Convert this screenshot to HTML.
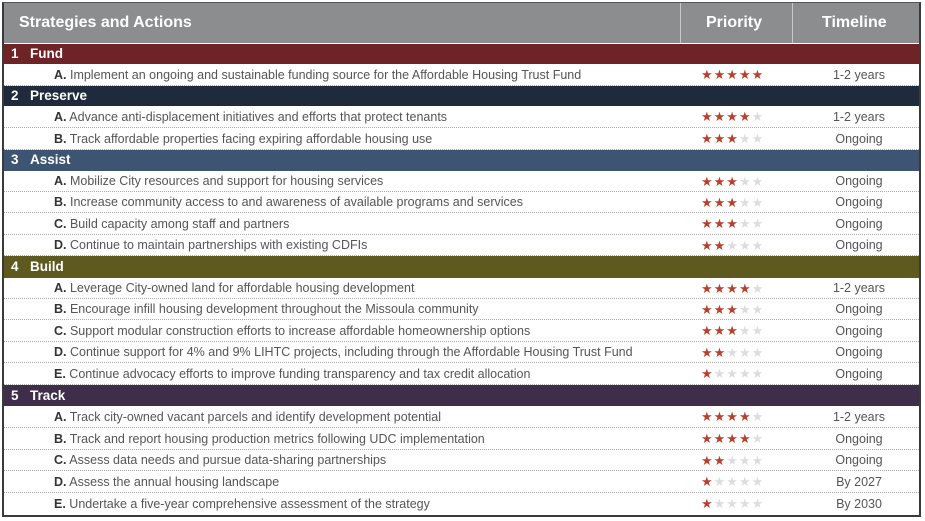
<!DOCTYPE html>
<html><head><meta charset="utf-8"><style>
body{margin:0;width:925px;height:521px;background:#fff;position:relative;overflow:hidden;font-family:"Liberation Sans",sans-serif}
#box{position:absolute;left:2px;top:2px;width:915px;height:512px;border:2px solid #3a3a3a;border-top:1px solid #555;background:#fff}
.h{position:absolute;left:0;top:0;width:915px;height:40px;background:#8b8d8f;color:#fff;font-weight:bold;font-size:16px}
.h span{position:absolute;top:11px}
.vd{position:absolute;top:0;height:40px;width:1px;background:#c8c8c8}
.c{position:absolute;left:0;width:915px;color:#fff;font-weight:bold;font-size:13.5px;line-height:20px}
.c i{font-style:normal;position:absolute;left:7px}
.c em{font-style:normal;position:absolute;left:26px}
.r{position:absolute;left:0;width:915px;font-size:12.5px;color:#555;border-bottom:1px dotted #aaa;box-sizing:border-box}
.r .t{position:absolute;left:50px}
.r .t b{color:#333;font-weight:bold}
.r .s{position:absolute;left:697px;font-size:13px;letter-spacing:1px;color:#b8402e}
.r .s u{text-decoration:none;color:#ddd}
.r .tl{position:absolute;left:795px;width:120px;text-align:center}
</style></head><body>
<div id="box">
<div class="h"><span style="left:15px">Strategies and Actions</span><span style="left:702px">Priority</span><span style="left:818px">Timeline</span><div class="vd" style="left:676px"></div><div class="vd" style="left:788px"></div></div>

<div class="c" style="top:41px;height:20px;background:#6e2326"><i>1</i><em>Fund</em></div>
<div class="r" style="top:61px;height:22px;line-height:22px"><span class="t"><b>A.</b> Implement an ongoing and sustainable funding source for the Affordable Housing Trust Fund</span><span class="s">★★★★★</span><span class="tl">1-2 years</span></div>

<div class="c" style="top:83px;height:20px;background:#1f2b3c"><i>2</i><em>Preserve</em></div>
<div class="r" style="top:103px;height:22px;line-height:22px"><span class="t"><b>A.</b> Advance anti-displacement initiatives and efforts that protect tenants</span><span class="s">★★★★<u>★</u></span><span class="tl">1-2 years</span></div>
<div class="r" style="top:125px;height:22px;line-height:22px"><span class="t"><b>B.</b> Track affordable properties facing expiring affordable housing use</span><span class="s">★★★<u>★★</u></span><span class="tl">Ongoing</span></div>

<div class="c" style="top:147px;height:21px;background:#3d5572"><i>3</i><em>Assist</em></div>
<div class="r" style="top:168px;height:21px;line-height:21px"><span class="t"><b>A.</b> Mobilize City resources and support for housing services</span><span class="s">★★★<u>★★</u></span><span class="tl">Ongoing</span></div>
<div class="r" style="top:189px;height:21px;line-height:21px"><span class="t"><b>B.</b> Increase community access to and awareness of available programs and services</span><span class="s">★★★<u>★★</u></span><span class="tl">Ongoing</span></div>
<div class="r" style="top:210px;height:22px;line-height:22px"><span class="t"><b>C.</b> Build capacity among staff and partners</span><span class="s">★★★<u>★★</u></span><span class="tl">Ongoing</span></div>
<div class="r" style="top:232px;height:21px;line-height:21px"><span class="t"><b>D.</b> Continue to maintain partnerships with existing CDFIs</span><span class="s">★★<u>★★★</u></span><span class="tl">Ongoing</span></div>

<div class="c" style="top:253px;height:22px;line-height:22px;background:#5e5a1f"><i>4</i><em>Build</em></div>
<div class="r" style="top:275px;height:21px;line-height:21px"><span class="t"><b>A.</b> Leverage City-owned land for affordable housing development</span><span class="s">★★★★<u>★</u></span><span class="tl">1-2 years</span></div>
<div class="r" style="top:296px;height:21px;line-height:21px"><span class="t"><b>B.</b> Encourage infill housing development throughout the Missoula community</span><span class="s">★★★<u>★★</u></span><span class="tl">Ongoing</span></div>
<div class="r" style="top:317px;height:22px;line-height:22px"><span class="t"><b>C.</b> Support modular construction efforts to increase affordable homeownership options</span><span class="s">★★★<u>★★</u></span><span class="tl">Ongoing</span></div>
<div class="r" style="top:339px;height:21px;line-height:21px"><span class="t"><b>D.</b> Continue support for 4% and 9% LIHTC projects, including through the Affordable Housing Trust Fund</span><span class="s">★★<u>★★★</u></span><span class="tl">Ongoing</span></div>
<div class="r" style="top:360px;height:22px;line-height:22px"><span class="t"><b>E.</b> Continue advocacy efforts to improve funding transparency and tax credit allocation</span><span class="s">★<u>★★★★</u></span><span class="tl">Ongoing</span></div>

<div class="c" style="top:382px;height:21px;line-height:21px;background:#3e2e4a"><i>5</i><em>Track</em></div>
<div class="r" style="top:403px;height:22px;line-height:22px"><span class="t"><b>A.</b> Track city-owned vacant parcels and identify development potential</span><span class="s">★★★★<u>★</u></span><span class="tl">1-2 years</span></div>
<div class="r" style="top:425px;height:22px;line-height:22px"><span class="t"><b>B.</b> Track and report housing production metrics following UDC implementation</span><span class="s">★★★★<u>★</u></span><span class="tl">Ongoing</span></div>
<div class="r" style="top:447px;height:21px;line-height:21px"><span class="t"><b>C.</b> Assess data needs and pursue data-sharing partnerships</span><span class="s">★★<u>★★★</u></span><span class="tl">Ongoing</span></div>
<div class="r" style="top:468px;height:22px;line-height:22px"><span class="t"><b>D.</b> Assess the annual housing landscape</span><span class="s">★<u>★★★★</u></span><span class="tl">By 2027</span></div>
<div class="r" style="top:490px;height:22px;line-height:22px;border-bottom:none"><span class="t"><b>E.</b> Undertake a five-year comprehensive assessment of the strategy</span><span class="s">★<u>★★★★</u></span><span class="tl">By 2030</span></div>
</div>
</body></html>
